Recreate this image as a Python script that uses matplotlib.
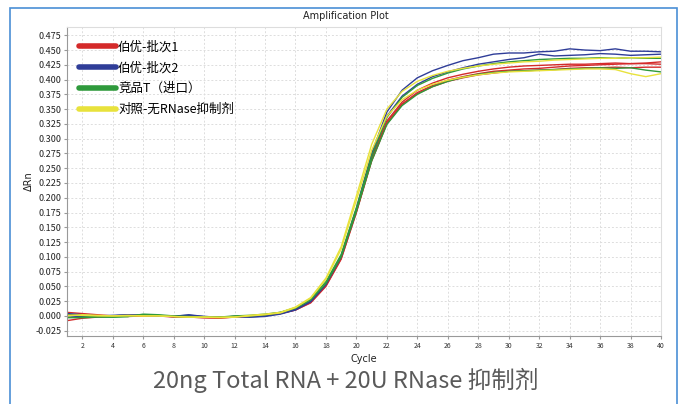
import matplotlib
matplotlib.use("Agg")
import matplotlib.pyplot as plt
from matplotlib.lines import Line2D
from matplotlib.patches import Rectangle

plt.rcParams['font.family'] = ['Noto Sans CJK SC', 'DejaVu Sans']

cycles = list(range(1, 41))

red_a = [-0.008, -0.004, -0.002, -0.001, 0.000, 0.000, 0.000, -0.001, -0.002, -0.003, -0.004, -0.002, -0.001, 0.001, 0.004, 0.010, 0.022, 0.050, 0.096, 0.175, 0.262, 0.325, 0.358, 0.378, 0.390, 0.399, 0.405, 0.410, 0.414, 0.416, 0.418, 0.419, 0.421, 0.423, 0.424, 0.425, 0.426, 0.427, 0.428, 0.430]
red_b = [0.006, 0.004, 0.002, 0.000, -0.001, 0.000, 0.000, -0.001, -0.001, -0.002, -0.002, -0.001, 0.000, 0.002, 0.005, 0.011, 0.024, 0.053, 0.100, 0.180, 0.268, 0.330, 0.362, 0.382, 0.394, 0.403, 0.409, 0.414, 0.418, 0.421, 0.423, 0.424, 0.425, 0.426, 0.426, 0.427, 0.428, 0.427, 0.427, 0.426]
red_c = [0.003, 0.001, 0.000, -0.001, 0.000, 0.001, 0.000, -0.002, -0.002, -0.003, -0.003, -0.002, 0.000, 0.001, 0.004, 0.010, 0.023, 0.051, 0.097, 0.176, 0.264, 0.327, 0.359, 0.376, 0.388, 0.397, 0.403, 0.408, 0.411, 0.414, 0.415, 0.416, 0.417, 0.419, 0.420, 0.420, 0.421, 0.420, 0.421, 0.421]
blue_a = [0.004, 0.002, 0.000, 0.000, 0.002, 0.001, 0.000, -0.001, 0.002, -0.001, -0.002, -0.001, -0.002, 0.000, 0.004, 0.011, 0.025, 0.054, 0.102, 0.182, 0.275, 0.345, 0.382, 0.403, 0.415, 0.424, 0.432, 0.437, 0.443, 0.445, 0.445, 0.447, 0.448, 0.452, 0.450, 0.449, 0.452, 0.448, 0.448, 0.447]
blue_b = [0.000, -0.001, 0.000, 0.001, 0.002, 0.001, 0.000, 0.000, 0.001, -0.001, -0.002, -0.001, -0.002, -0.001, 0.003, 0.010, 0.024, 0.053, 0.100, 0.179, 0.270, 0.338, 0.372, 0.392, 0.405, 0.413, 0.420, 0.426, 0.430, 0.434, 0.437, 0.443, 0.440, 0.441, 0.442, 0.444, 0.443, 0.441, 0.442, 0.443]
green_a = [-0.003, -0.003, -0.002, -0.002, -0.001, 0.003, 0.002, 0.000, -0.001, -0.002, -0.002, 0.000, 0.001, 0.003, 0.006, 0.014, 0.029, 0.058, 0.104, 0.183, 0.270, 0.336, 0.370, 0.390, 0.402, 0.411, 0.418, 0.423, 0.427, 0.430, 0.432, 0.434, 0.435, 0.436, 0.436, 0.437, 0.436, 0.437, 0.436, 0.436]
green_b = [0.002, 0.000, -0.001, -0.002, -0.001, 0.002, 0.001, -0.001, -0.002, -0.002, -0.002, -0.001, 0.000, 0.002, 0.006, 0.013, 0.027, 0.055, 0.100, 0.177, 0.262, 0.324, 0.356, 0.375, 0.388, 0.397, 0.404, 0.409, 0.412, 0.414, 0.415, 0.416, 0.417, 0.418, 0.419, 0.420, 0.419, 0.420, 0.416, 0.413]
yellow_a = [0.001, 0.001, 0.000, 0.000, 0.001, 0.000, 0.000, -0.001, -0.002, -0.002, -0.002, -0.002, 0.001, 0.003, 0.006, 0.015, 0.031, 0.064, 0.117, 0.203, 0.290, 0.350, 0.380, 0.397, 0.407, 0.414, 0.419, 0.423, 0.426, 0.428, 0.430, 0.431, 0.433, 0.434, 0.435, 0.436, 0.436, 0.437, 0.437, 0.438]
yellow_b = [0.000, 0.002, 0.001, 0.000, 0.000, 0.000, 0.000, -0.001, -0.002, -0.002, -0.003, -0.002, 0.000, 0.002, 0.005, 0.014, 0.030, 0.062, 0.113, 0.196, 0.280, 0.338, 0.366, 0.382, 0.392, 0.399, 0.404, 0.408, 0.411, 0.413, 0.414, 0.415, 0.416, 0.417, 0.418, 0.418, 0.417, 0.410, 0.405, 0.410]

legend_labels = ['伯优-批次1', '伯优-批次2', '竞品T（进口）', '对照-无RNase抑制剂']
group_colors = ['#d42a2a', '#2f3d98', '#2f9a3c', '#e8e23c']
groups = [[red_a, red_b, red_c], [blue_a, blue_b], [green_a, green_b], [yellow_a, yellow_b]]

x_ticks = list(range(2, 41, 2))
y_ticks = [-0.025 + 0.025 * i for i in range(21)]

fig = plt.figure(figsize=(6.83, 4.04), dpi=100)
# outer blue frame
fig.patches.append(Rectangle((10 / 683, -0.05), (677 - 10) / 683, (404 - 8) / 404 + 0.05,
                             transform=fig.transFigure, fill=False,
                             edgecolor='#4a8fd6', linewidth=1.2))

ax = fig.add_axes([67 / 683, (404 - 336) / 404, (661 - 67) / 683, (336 - 27) / 404])

for color, curves in zip(group_colors, groups):
    for c in curves:
        ax.plot(cycles, c, color=color, linewidth=1.0)

ax.set_xlim(1, 40)
ax.set_ylim(-0.034, 0.489)
ax.set_xticks(x_ticks)
ax.set_xticklabels([str(t) for t in x_ticks], fontsize=5, color='#333333')
ax.set_yticks(y_ticks)
ax.set_yticklabels(['%.3f' % t for t in y_ticks], fontsize=6.5, color='#222222')
ax.tick_params(axis='both', length=2, color='#999999', pad=2)
ax.grid(True, linestyle=(0, (2, 2)), color='#dddddd', linewidth=0.7)
for s in ['left', 'bottom']:
    ax.spines[s].set_color('#999999')
for s in ['top', 'right']:
    ax.spines[s].set_color('#dddddd')

ax.set_xlabel('Cycle', fontsize=7, color='#222222', labelpad=3, family='DejaVu Sans')
ax.set_ylabel('ΔRn', fontsize=7, color='#222222', labelpad=1, family='DejaVu Sans')
fig.text(346 / 683, 1 - 16 / 404, 'Amplification Plot', ha='center', va='center',
         fontsize=7, color='#222222', family='DejaVu Sans')

handles = [Line2D([0], [0], color=c, linewidth=4, solid_capstyle='round') for c in group_colors]
ax.legend(handles, legend_labels, loc='upper left', bbox_to_anchor=(0.008, 0.98),
          frameon=False, fontsize=9, handlelength=2.9, handletextpad=0.2,
          labelspacing=0.62, borderaxespad=0.2)

fig.text(346 / 683, 1 - 380 / 404, '20ng Total RNA + 20U RNase 抑制剂', ha='center', va='center',
         fontsize=17, color='#5a5a5a')

fig.savefig('out.png', dpi=100)
